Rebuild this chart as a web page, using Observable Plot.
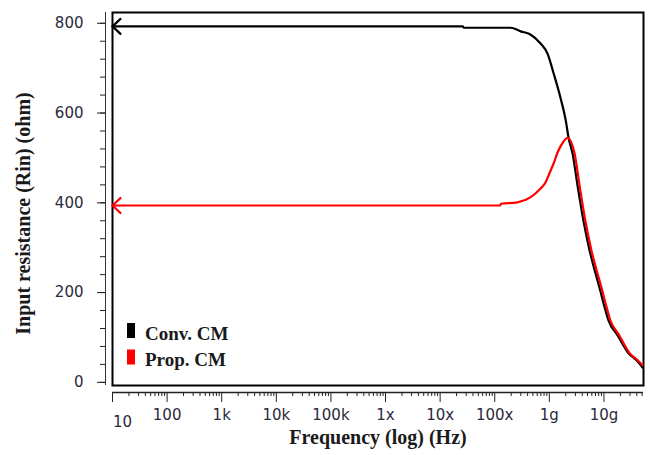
<!DOCTYPE html>
<html><head><meta charset="utf-8">
<script src="https://cdn.jsdelivr.net/npm/d3@7"></script>
<script src="https://cdn.jsdelivr.net/npm/@observablehq/plot@0.6"></script>
<style>
html,body{margin:0;padding:0;background:#fff;}
</style></head><body><div id="chart"></div>
<script>
// ---- data ----
const seriesNames = ["Conv. CM", "Prop. CM"];
const seriesColors = ["#000000", "#ff0000"];

const convFreq = [10, 2.6e7, 2.7e7, 1.95e8, 3.0e8, 4.5e8, 6.9e8, 9.3e8, 1.2e9, 1.6e9, 2.0e9, 2.25e9, 2.66e9, 3.28e9, 4.2e9, 5.45e9, 7.0e9, 8.3e9, 1.03e10, 1.21e10, 1.77e10, 2.82e10, 3.95e10, 5.1e10];
const convRin  = [793, 793, 790, 790, 782, 775, 755, 732, 688, 634, 583, 545, 510, 439, 361, 294, 243, 211, 167, 138, 105, 65, 49, 33];

const propFreq = [10, 1.25e8, 1.3e8, 2.6e8, 4.5e8, 6.9e8, 8.5e8, 9.3e8, 1.19e9, 1.46e9, 1.81e9, 2.15e9, 2.9e9, 3.57e9, 4.55e9, 5.9e9, 7.6e9, 9.0e9, 1.12e10, 1.31e10, 1.9e10, 2.95e10, 4.1e10, 5.1e10];
const propRin  = [394, 394, 398, 401, 412, 432, 445, 456, 487, 516, 536, 545, 510, 439, 361, 294, 243, 211, 167, 138, 105, 65, 50, 38];

const xTickValues = [1e1, 1e2, 1e3, 1e4, 1e5, 1e6, 1e7, 1e8, 1e9, 1e10];
const xTickLabels = ["10", "100", "1k", "10k", "100k", "1x", "10x", "100x", "1g", "10g"];
const yTickValues = [0, 200, 400, 600, 800];
const yMinorTicks = [0, 40, 80, 120, 160, 200, 240, 280, 320, 360, 400, 440, 480, 520, 560, 600, 640, 680, 720, 760, 800];
const xDomain = [10, 5.3e10];
const yDomain = [-7, 824];

const xTitle = "Frequency (log) (Hz)";
const yTitle = "Input resistance (Rin) (ohm)";

// ---- build table ----
const rows = [
  ...convFreq.map((f, i) => ({series: seriesNames[0], f, r: convRin[i]})),
  ...propFreq.map((f, i) => ({series: seriesNames[1], f, r: propRin[i]}))
];
const xMinorTicks = [];
for (let d = 10; d <= 1e10; d *= 10) for (let m = 2; m <= 9; m++) if (d * m <= xDomain[1]) xMinorTicks.push(d * m);
const labelOf = new Map(xTickValues.map((v, i) => [v, xTickLabels[i]]));

function arrowHead(color) {
  return d3.create("svg:marker")
    .attr("viewBox", "-10 -10 20 20")
    .attr("markerWidth", 20).attr("markerHeight", 20)
    .attr("markerUnits", "userSpaceOnUse")
    .attr("orient", "auto-start-reverse")
    .attr("fill", "none").attr("stroke", color).attr("stroke-width", 2.2)
    .attr("stroke-linecap", "round").attr("stroke-linejoin", "round")
    .call(m => m.append("path").attr("d", "M-8,-7.5L0,0L-8,7.5"))
    .node();
}

function legendMark(index, scales, values, dimensions) {
  const g = d3.create("svg:g");
  const x0 = dimensions.marginLeft + 15;
  const y0 = dimensions.height - dimensions.marginBottom - 54.5;
  seriesNames.forEach((n, i) => {
    const y = y0 + i * 26.5;
    g.append("rect").attr("x", x0).attr("y", y - 7.5).attr("width", 8).attr("height", 15).attr("fill", seriesColors[i]);
    g.append("text").attr("x", x0 + 18).attr("y", y + 2.5).attr("dy", "0.35em")
      .attr("text-anchor", "start")
      .attr("font-family", "Liberation Serif").attr("font-weight", "bold").attr("font-size", 19)
      .attr("fill", "#1a1a1a").text(n);
  });
  return g.node();
}

const chart = Plot.plot({
  width: 650,
  height: 455,
  marginLeft: 112,
  marginRight: 7,
  marginTop: 12,
  marginBottom: 70,
  style: {fontFamily: "DejaVu Sans", fontSize: "15px", background: "#fff", color: "#2a2a3a"},
  x: {type: "log", domain: xDomain},
  y: {domain: yDomain},
  color: {domain: seriesNames, range: seriesColors},
  marks: [
    Plot.frame({stroke: "#000", strokeWidth: 2}),
    Plot.ruleX([xDomain[0]], {dx: -7, stroke: "#333", strokeWidth: 1}),
    Plot.ruleY([yDomain[0]], {dy: 7, stroke: "#222", strokeWidth: 1.5}),
    Plot.axisY({ticks: yTickValues, tickSize: 8, tickPadding: 14, dx: -7, label: null, stroke: "#222", tickFormat: d => String(d)}),
    Plot.axisY({ticks: yMinorTicks, tickSize: 5, dx: -7, label: null, stroke: "#222", tickFormat: () => ""}),
    Plot.axisX({ticks: xTickValues.slice(1), tickSize: 10, tickPadding: 7, dy: 7, label: null, stroke: "#222", tickFormat: d => labelOf.get(d)}),
    Plot.axisX({ticks: [xTickValues[0]], tickSize: 10, dy: 7, label: null, stroke: "#222", tickFormat: () => ""}),
    Plot.axisX({ticks: xMinorTicks, tickSize: 4, dy: 7, label: null, stroke: "#222", tickFormat: () => ""}),
    Plot.text([xTickValues[0]], {x: d => d, text: [xTickLabels[0]], frameAnchor: "bottom", dx: 10, dy: 41, fill: "#2a2a3a"}),
    Plot.line(rows, {x: "f", y: "r", z: "series", stroke: "series", strokeWidth: 2.2, curve: "monotone-x", markerStart: arrowHead}),
    Plot.text([yTitle], {text: d => d, frameAnchor: "left", textAnchor: "middle", rotate: -90, dx: -89, dy: 14.5, fontFamily: "Liberation Serif", fontWeight: "bold", fontSize: 20, fill: "#1a1a1a"}),
    Plot.text([xTitle], {text: d => d, frameAnchor: "bottom", textAnchor: "middle", dy: 58, fontFamily: "Liberation Serif", fontWeight: "bold", fontSize: 20, fill: "#1a1a1a"}),
    legendMark
  ]
});
document.getElementById("chart").appendChild(chart);
</script>
</body></html>
